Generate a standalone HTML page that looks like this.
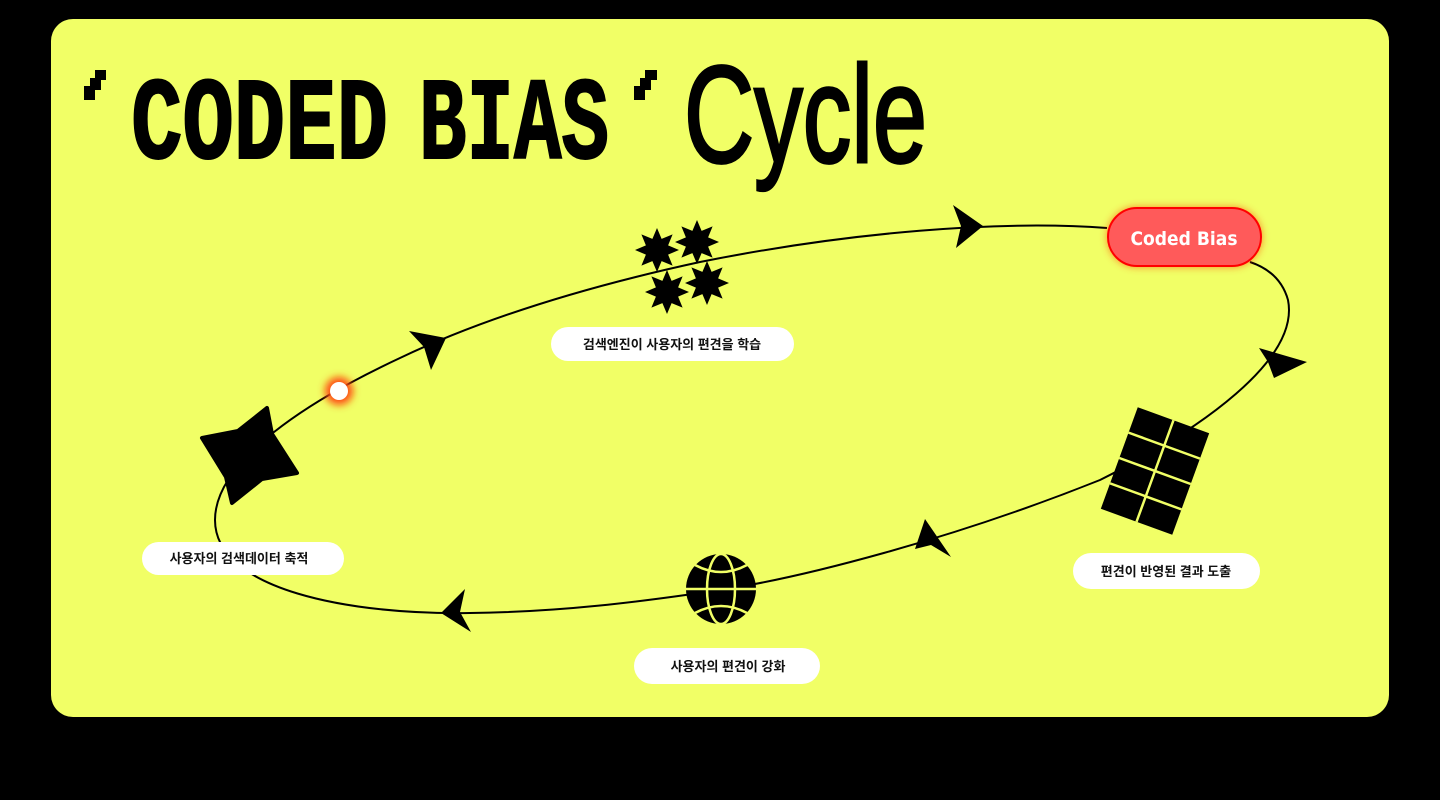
<!DOCTYPE html>
<html><head><meta charset="utf-8"><style>
html,body{margin:0;padding:0;background:#000;width:1440px;height:800px;overflow:hidden}
svg{display:block}
.lbl{font-family:"Liberation Sans","Noto Sans CJK KR",sans-serif;font-weight:700;font-size:13px;fill:#111}
</style></head><body>
<svg width="1440" height="800" viewBox="0 0 1440 800" xmlns="http://www.w3.org/2000/svg">
<defs>
<polygon id="st" points="0,-22 4.6,-11.1 15.6,-15.6 11.1,-4.6 22,0 11.1,4.6 15.6,15.6 4.6,11.1 0,22 -4.6,11.1 -15.6,15.6 -11.1,4.6 -22,0 -11.1,-4.6 -15.6,-15.6 -4.6,-11.1"/>
<filter id="glow" x="-80%" y="-80%" width="260%" height="260%"><feGaussianBlur stdDeviation="4"/></filter>
</defs>
<rect x="51" y="19" width="1338" height="698" rx="22" fill="#f1ff66"/>
<!-- title -->
<polygon points="95,70 106,70 106,80 101,80 101,90 95,90 95,100 84,100 84,86 90,86 90,78 95,78" fill="#000"/>
<polygon points="645,70 657,70 657,80 651,80 651,90 645,90 645,100 634,100 634,86 640,86 640,78 645,78" fill="#000"/>
<text x="131" y="158" textLength="257" lengthAdjust="spacingAndGlyphs" font-family="Liberation Mono, monospace" font-weight="700" font-size="117" stroke="#000" stroke-width="2">CODED</text>
<text x="419" y="158" textLength="190" lengthAdjust="spacingAndGlyphs" font-family="Liberation Mono, monospace" font-weight="700" font-size="117" stroke="#000" stroke-width="2">BIAS</text>
<text x="684" y="162" textLength="243" lengthAdjust="spacingAndGlyphs" font-family="Liberation Sans, sans-serif" font-size="138" stroke="#000" stroke-width="3">Cycle</text>
<!-- curve -->
<path d="M1107,228 C1000,220 850,232 700,262 C580,288 480,320 400,358 C310,400 215,460 215,520 C215,590 350,615 470,613 C560,612 640,602 720,590 C800,578 950,540 1100,480 C1200,430 1300,360 1288,300 C1281,275 1262,266 1250,262" fill="none" stroke="#000" stroke-width="2"/>
<!-- arrows -->
<polygon points="953,205 983,226 956,248 961,226" fill="#000"/>
<polygon points="409,331 446,338 431,370 424,347" fill="#000"/>
<polygon points="1259,348 1307,362 1274,378 1268,362" fill="#000"/>
<polygon points="925,519 951,557 931,545 915,549" fill="#000"/>
<polygon points="441,613 465,589 460,612 471,632" fill="#000"/>
<!-- stars -->
<use href="#st" x="657" y="250"/>
<use href="#st" x="697" y="242"/>
<use href="#st" x="667" y="292"/>
<use href="#st" x="707" y="283"/>
<!-- 4-point star -->
<polygon points="267,408 272,434 297,473 262,479 232,503 226,477 202,438 238,431" fill="#000" stroke="#000" stroke-width="4" stroke-linejoin="round"/>
<!-- dot -->
<circle cx="339" cy="391" r="14" fill="#ff4a10" filter="url(#glow)"/>
<circle cx="339" cy="391" r="9" fill="#fff"/>
<!-- grid -->
<g transform="translate(1155,471) rotate(20)">
<rect x="-38" y="-54" width="76" height="108" fill="#000"/>
<line x1="0" y1="-54" x2="0" y2="54" stroke="#f1ff66" stroke-width="2.5"/>
<line x1="-38" y1="-27" x2="38" y2="-27" stroke="#f1ff66" stroke-width="2.5"/>
<line x1="-38" y1="0" x2="38" y2="0" stroke="#f1ff66" stroke-width="2.5"/>
<line x1="-38" y1="27" x2="38" y2="27" stroke="#f1ff66" stroke-width="2.5"/>
</g>
<!-- globe -->
<g transform="translate(721,589)">
<circle r="35" fill="#000"/>
<ellipse rx="14" ry="35" fill="none" stroke="#f1ff66" stroke-width="2.5"/>
<line x1="-35" y1="0" x2="35" y2="0" stroke="#f1ff66" stroke-width="2.5"/>
<path d="M-26,-24 Q0,-10 26,-24" fill="none" stroke="#f1ff66" stroke-width="2.5"/>
<path d="M-26,24 Q0,10 26,24" fill="none" stroke="#f1ff66" stroke-width="2.5"/>
</g>
<!-- coded bias pill -->
<rect x="1107" y="207" width="155" height="60" rx="30" fill="#ff3a00" opacity="0.6" filter="url(#glow)"/>
<rect x="1108" y="208" width="153" height="58" rx="29" fill="#ff5a5a" stroke="#ff0000" stroke-width="2"/>
<text x="1184" y="245" text-anchor="middle" font-family="DejaVu Sans, sans-serif" font-weight="700" font-size="19" fill="#fff" textLength="107" lengthAdjust="spacingAndGlyphs">Coded Bias</text>
<!-- labels -->
<rect x="551" y="327" width="243" height="34" rx="17" fill="#fff"/>
<text class="lbl" x="672" y="349" text-anchor="middle">검색엔진이 사용자의 편견을 학습</text>
<rect x="142" y="542" width="202" height="33" rx="16.5" fill="#fff"/>
<text class="lbl" x="239" y="563" text-anchor="middle">사용자의 검색데이터 축적</text>
<rect x="634" y="648" width="186" height="36" rx="18" fill="#fff"/>
<text class="lbl" x="728" y="671" text-anchor="middle" font-size="14">사용자의 편견이 강화</text>
<rect x="1073" y="553" width="187" height="36" rx="18" fill="#fff"/>
<text class="lbl" x="1166" y="576" text-anchor="middle" font-size="14">편견이 반영된 결과 도출</text>
</svg>
</body></html>
